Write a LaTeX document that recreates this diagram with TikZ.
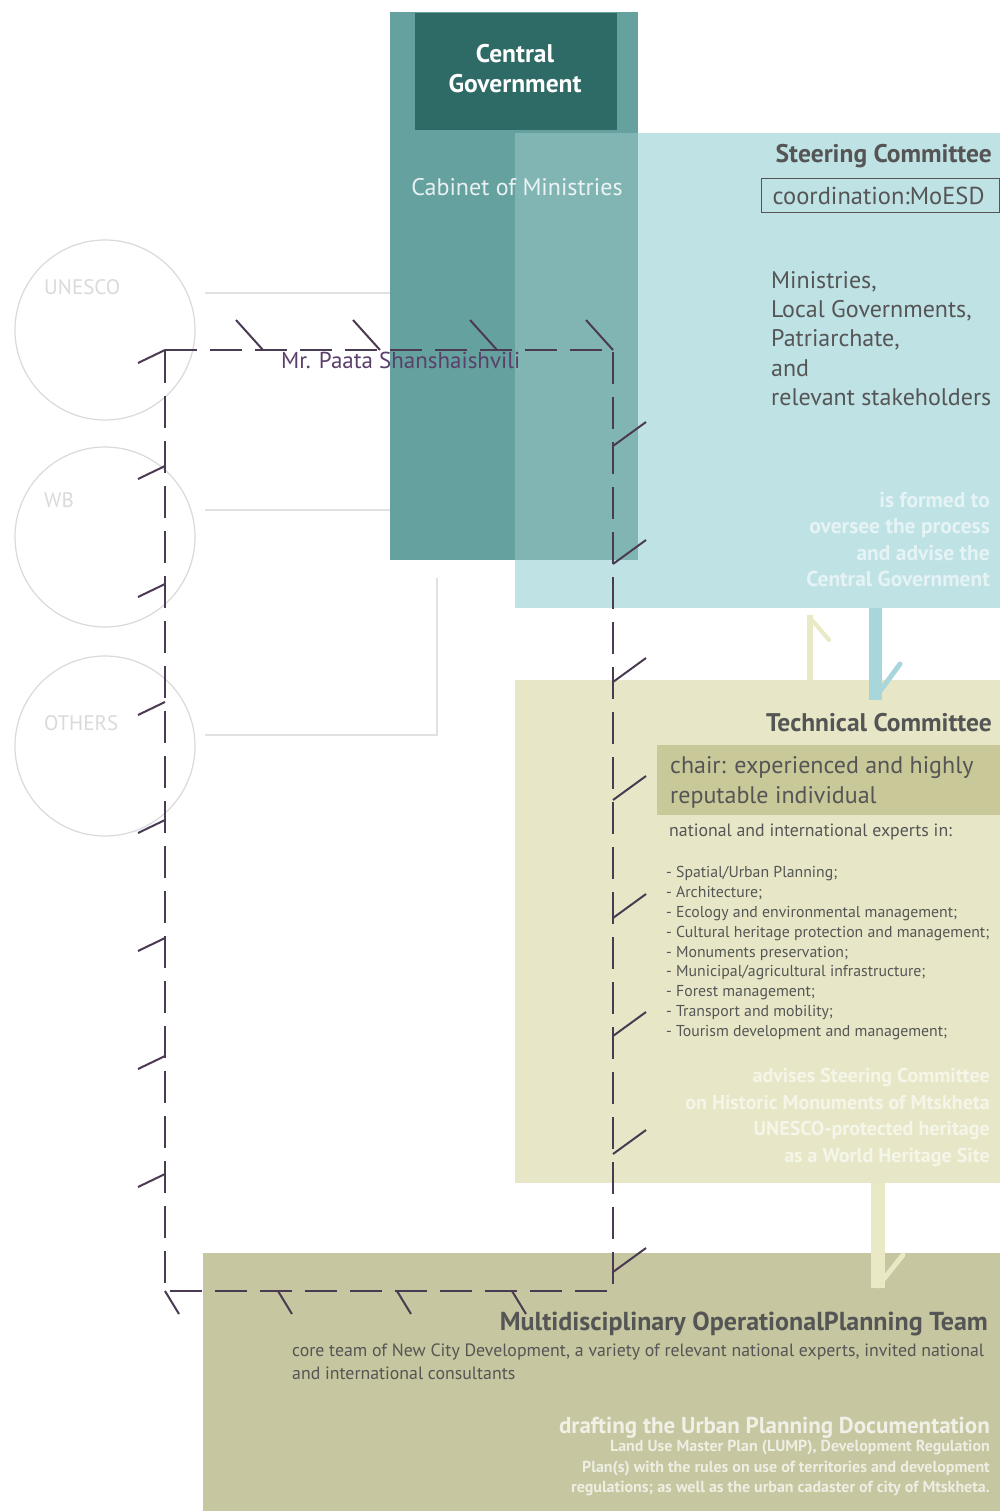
\documentclass[tikz,border=0pt]{standalone}
\usepackage{fontspec}
\setmainfont{PT Sans}
\definecolor{txtgray}{HTML}{555555}
\definecolor{cgdark}{HTML}{2F6B66}
\definecolor{cgbox}{HTML}{65A19F}
\definecolor{cgover}{HTML}{80B5B4}
\definecolor{steerc}{HTML}{BFE2E5}
\definecolor{techc}{HTML}{E7E7C8}
\definecolor{chairc}{HTML}{C9C899}
\definecolor{teamc}{HTML}{C6C6A0}
\definecolor{loopc}{HTML}{4A3B52}
\definecolor{circc}{HTML}{DADADA}
\definecolor{namec}{HTML}{5B3F6B}
\definecolor{arrblue}{HTML}{A9D6DB}
\definecolor{arryel}{HTML}{E9E9C6}
\begin{document}
\begin{tikzpicture}[x=1pt,y=-1pt,
  every node/.style={inner sep=0pt},
  fz/.style={font=\fontsize{#1}{#1}\selectfont},
  body/.style={text=txtgray},
  whitetxt/.style={text=white, opacity=0.6, font=\bfseries\fontsize{21.5}{26.5}\selectfont, align=right},
  loopline/.style={draw=loopc, line width=2.4pt, dash pattern=on 32pt off 13pt},
  barb/.style={draw=loopc, line width=2pt},
  orgcircle/.style={draw=circc, line width=1.2pt, circle, minimum size=180pt},
  greyline/.style={draw=circc!80, line width=1.5pt},
  circlabel/.style={text=circc, font=\fontsize{21}{24}\selectfont, anchor=west}
]
\useasboundingbox[fill=white] (0,0) rectangle (1000,1511);

% ---- boxes ----
\path[fill=steerc] (515,133) rectangle (1000,608);
\node[fill=techc, minimum width=485pt, minimum height=503pt, anchor=north west] (tech) at (515,680) {};
\node[fill=teamc, minimum width=797pt, minimum height=258pt, anchor=north west] (team) at (203,1253) {};
\node[minimum width=485pt, minimum height=475pt, anchor=north west] (steer) at (515,133) {};
\node[fill=cgbox, minimum width=248pt, minimum height=548pt, anchor=north west] (cg) at (390,12) {};
\path[fill=cgover] (515,133) rectangle (638,560);
\node[fill=cgdark, minimum width=202pt, minimum height=117pt, anchor=north west] (cgin) at (415,13) {};

% ---- central government texts ----
\node[text=white, font=\bfseries\fontsize{25.5}{30}\selectfont, align=center] (cgt) at (515,69) {Central\\Government};
\node[text=white, opacity=0.85, fz=24] (cab) at (517,187) {Cabinet of Ministries};

% ---- steering committee ----
\node[body, font=\bfseries\fontsize{25.5}{28}\selectfont, anchor=east] (steert) at (992,156) {Steering Committee};
\node[draw=txtgray, line width=1.2pt, minimum width=238pt, minimum height=34pt, anchor=north west] (coord) at (761,178) {};
\node[body, fz=24.5] (coordt) at ([xshift=-2pt]coord.center) {coordination:MoESD};
\node[body, font=\fontsize{24}{29.3}\selectfont, align=left, anchor=north west] (mins) at (771,271) {Ministries,\\Local Governments,\\Patriarchate,\\and\\relevant stakeholders};
\node[whitetxt, anchor=north east] (steerw) at (990,492) {is formed to\\oversee the process\\and advise the\\Central Government};

% ---- technical committee ----
\node[body, font=\bfseries\fontsize{25.5}{28}\selectfont, anchor=east] (techt) at (992,723) {Technical Committee};
\node[fill=chairc, minimum width=343pt, minimum height=70pt, anchor=north west] (chair) at (657,745) {};
\node[body, font=\fontsize{24}{30}\selectfont, align=left, anchor=north west] (chairt) at (670,756) {chair: experienced and highly\\reputable individual};
\node[body, fz=17.8, anchor=west] (natl) at (669,832) {national and international experts in:};
\node[body, font=\fontsize{15.8}{19.9}\selectfont, align=left, anchor=north west] (list) at (666,866) {- Spatial/Urban Planning;\\- Architecture;\\- Ecology and environmental management;\\- Cultural heritage protection and management;\\- Monuments preservation;\\- Municipal/agricultural infrastructure;\\- Forest management;\\- Transport and mobility;\\- Tourism development and management;};
\node[whitetxt, font=\bfseries\fontsize{20}{26.7}\selectfont, anchor=north east] (techw) at (990,1068) {advises Steering Committee\\on Historic Monuments of Mtskheta\\UNESCO-protected heritage\\as a World Heritage Site};

% ---- planning team ----
\node[body, font=\bfseries\fontsize{26}{28}\selectfont, anchor=east] (teamt) at (988,1324) {Multidisciplinary OperationalPlanning Team};
\node[body, font=\fontsize{17.8}{23}\selectfont, align=left, anchor=north west] (teamd) at (292,1344) {core team of New City Development, a variety of relevant national experts, invited national\\and international consultants};
\node[text=white, opacity=0.75, font=\bfseries\fontsize{23}{24}\selectfont, anchor=east] (draft) at (990,1428) {drafting the Urban Planning Documentation};
\node[text=white, opacity=0.7, font=\bfseries\fontsize{16}{20.5}\selectfont, align=right, anchor=north east] (draftd) at (990,1440) {Land Use Master Plan (LUMP), Development Regulation\\Plan(s) with the rules on use of territories and development\\regulations; as well as the urban cadaster of city of Mtskheta.};

% ---- arrows between committees ----
\coordinate (sa1) at (875,608);
\coordinate (sa2) at (875,700);
\draw[draw=arrblue, line width=13pt] (sa1) -- (sa2);
\draw[draw=arrblue, line width=5pt, line cap=round] (875,698) -- (900,664);
\coordinate (ua1) at (810,680);
\coordinate (ua2) at (810,615);
\draw[draw=arryel, line width=6pt] (ua1) -- (ua2);
\draw[draw=arryel, line width=4pt, line cap=round] (812,620) -- (829,640);
\coordinate (ta1) at (878,1183);
\coordinate (ta2) at (878,1288);
\draw[draw=arryel, line width=14pt] (ta1) -- (ta2);
\draw[draw=arryel, line width=5pt, line cap=round] (878,1286) -- (903,1255);

% ---- donor circles ----
\node[orgcircle] (unesco) at (105,330) {};
\node[orgcircle] (wb) at (105,537) {};
\node[orgcircle] (others) at (105,746) {};
\node[circlabel] at (44,287) {UNESCO};
\node[circlabel] at (44,500) {WB};
\node[circlabel] at (44,723) {OTHERS};
\coordinate (g1) at (205,293);
\coordinate (g2) at (205,510);
\coordinate (g3) at (205,735);
\coordinate (g3b) at (437,735);
\coordinate (g3c) at (437,578);
\draw[greyline] (g1) -- (g1 -| cg.west);
\draw[greyline] (g2) -- (g2 -| cg.west);
\draw[greyline] (g3) -- (g3b) -- (g3c);

% ---- dashed loop ----
\coordinate (tl) at (165,350);
\coordinate (tr) at (613,350);
\coordinate (br) at (613,1291);
\coordinate (bl) at (165,1291);
\draw[loopline] (tl) -- (tr) -- (br) -- (bl) -- cycle;
\foreach \x in {263,380,497,613} \draw[barb] (\x,350) -- ++(-27,-30);
\foreach \y in {446,564,682,800,918,1036,1154,1272} \draw[barb] (613,\y) -- ++(33,-24);
\foreach \x in {165,278,397,512} \draw[barb] (\x,1291) -- ++(14,23);
\foreach \y in {350,466,584,702,820,938,1056,1174} \draw[barb] (165,\y) -- ++(-27,13);
\node[text=namec, fz=23, anchor=west] (name) at (281,360) {Mr. Paata Shanshaishvili};
\end{tikzpicture}
\end{document}
